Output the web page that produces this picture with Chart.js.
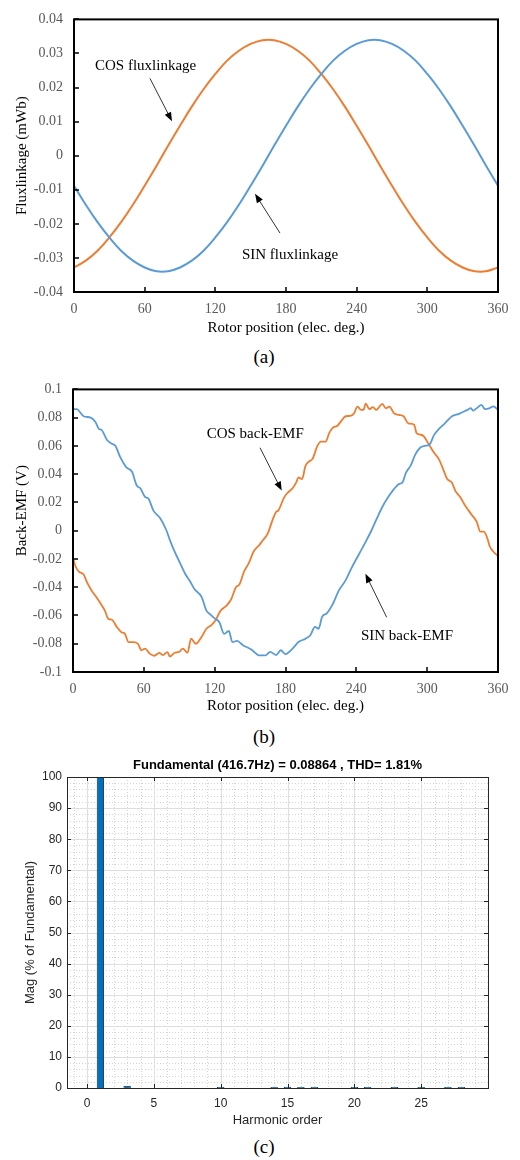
<!DOCTYPE html>
<html>
<head>
<meta charset="utf-8">
<script src="https://cdn.jsdelivr.net/npm/chart.js@4.4.1/dist/chart.umd.min.js"></script>
<style>
    body { margin: 0; background: #fff; width: 520px; height: 1160px; position: relative; overflow: hidden; }
    canvas { position: absolute; left: 0; }
    .cap { position: absolute; left: 0; width: 528px; text-align: center; font: 19px "Liberation Serif", serif; color: #000; line-height: 20px; }
</style>
</head>
<body>
<canvas id="chartA" width="520" height="345" style="top:0"></canvas>
<div class="cap" style="top:347px">(a)</div>
<canvas id="chartB" width="520" height="345" style="top:370px"></canvas>
<div class="cap" style="top:727px">(b)</div>
<canvas id="chartC" width="520" height="390" style="top:745px"></canvas>
<div class="cap" style="top:1137px">(c)</div>
<script>
// (a) flux linkage, mWb
const fluxAngle = [0, 10, 20, 30, 40, 50, 60, 70, 80, 90, 100, 110, 120, 130, 140, 150, 160, 170, 180,
    190, 200, 210, 220, 230, 240, 250, 260, 270, 280, 290, 300, 310, 320, 330, 340, 350, 360];
const cosFlux = [-0.0328, -0.0308, -0.0279, -0.0240, -0.0195, -0.0144, -0.0088, -0.0030, 0.0030, 0.0088,
    0.0144, 0.0195, 0.0240, 0.0279, 0.0308, 0.0328, 0.0339, 0.0339, 0.0328, 0.0308, 0.0279, 0.0240, 0.0195,
    0.0144, 0.0088, 0.0030, -0.0030, -0.0088, -0.0144, -0.0195, -0.0240, -0.0279, -0.0308, -0.0328, -0.0339,
    -0.0339, -0.0328];
const sinFlux = [-0.0088, -0.0144, -0.0195, -0.0240, -0.0279, -0.0308, -0.0328, -0.0339, -0.0339, -0.0328,
    -0.0308, -0.0279, -0.0240, -0.0195, -0.0144, -0.0088, -0.0030, 0.0030, 0.0088, 0.0144, 0.0195, 0.0240,
    0.0279, 0.0308, 0.0328, 0.0339, 0.0339, 0.0328, 0.0308, 0.0279, 0.0240, 0.0195, 0.0144, 0.0088, 0.0030,
    -0.0030, -0.0088];
const fluxTicks = [-0.04, -0.03, -0.02, -0.01, 0, 0.01, 0.02, 0.03, 0.04];

// (b) back-EMF, V
const sinEmfAngle = [0, 3, 9, 15, 19, 22, 24, 29, 33, 36, 40, 45, 50, 54, 57, 61, 64, 68, 74, 79, 82, 86, 90,
    95, 99, 103, 109, 113, 116, 120, 124, 128, 132, 135, 139, 144, 151, 158, 163, 167, 172, 176, 180, 186, 191,
    197, 201, 205, 208, 211, 215, 220, 225, 231, 236, 242, 248, 253, 258, 262, 267, 272, 276, 279, 282, 286,
    290, 294, 298, 302, 306, 310, 315, 321, 327, 334, 337, 339, 342, 346, 349, 353, 356, 360];
const sinEmf = [0.086, 0.086, 0.081, 0.080, 0.077, 0.072, 0.0715, 0.064, 0.0615, 0.060, 0.052, 0.045, 0.0417,
    0.032, 0.030, 0.024, 0.0226, 0.0144, 0.0086, 0.0005, -0.0065, -0.0147, -0.0217, -0.0305, -0.0356, -0.0415,
    -0.047, -0.0566, -0.059, -0.062, -0.0648, -0.073, -0.071, -0.0788, -0.078, -0.081, -0.084, -0.0883,
    -0.0883, -0.0857, -0.088, -0.0846, -0.0874, -0.0834, -0.0788, -0.0764, -0.074, -0.068, -0.0694, -0.061,
    -0.0585, -0.052, -0.0426, -0.035, -0.0263, -0.017, -0.0077, 0.0005, 0.0098, 0.0168, 0.0238, 0.0296, 0.033,
    0.034, 0.041, 0.046, 0.054, 0.0587, 0.060, 0.061, 0.068, 0.072, 0.076, 0.081, 0.0827, 0.0855, 0.0867,
    0.085, 0.0867, 0.089, 0.086, 0.0867, 0.088, 0.0855];
const cosEmfAngle = [0, 2, 5, 9, 12, 16, 20, 24, 27, 30, 33, 37, 41, 44, 47, 51, 55, 58, 61, 65, 69, 73, 76,
    80, 82, 86, 90, 93, 97, 100, 104, 109, 113, 117, 121, 125, 130, 134, 138, 141, 145, 149, 153, 158, 160,
    165, 169, 172, 174, 179, 182, 186, 189, 191, 194, 197, 200, 203, 207, 210, 214, 217, 220, 224, 227, 231,
    235, 238, 241, 244, 246, 248, 251, 254, 257, 260, 262, 265, 268, 272, 276, 280, 284, 289, 291, 294, 297,
    301, 306, 310, 313, 317, 321, 324, 328, 332, 338, 342, 345, 348, 351, 353, 356, 360];
const cosEmf = [-0.0193, -0.025, -0.029, -0.031, -0.0368, -0.0426, -0.0473, -0.0524, -0.0566, -0.0624, -0.063,
    -0.068, -0.0718, -0.073, -0.0788, -0.0788, -0.080, -0.0846, -0.0834, -0.087, -0.0885, -0.0864, -0.088,
    -0.086, -0.089, -0.0864, -0.0857, -0.0834, -0.0864, -0.0764, -0.080, -0.075, -0.0694, -0.067, -0.063,
    -0.0566, -0.053, -0.0485, -0.040, -0.038, -0.0287, -0.0228, -0.0147, -0.010, -0.0077, -0.0019, 0.0075,
    0.0133, 0.0144, 0.0238, 0.027, 0.030, 0.034, 0.0377, 0.0366, 0.046, 0.049, 0.051, 0.060, 0.063, 0.063,
    0.069, 0.0727, 0.0743, 0.0774, 0.081, 0.0813, 0.083, 0.0878, 0.0855, 0.0855, 0.090, 0.086, 0.0874, 0.0855,
    0.0883, 0.0897, 0.0867, 0.0878, 0.083, 0.082, 0.081, 0.076, 0.075, 0.069, 0.068, 0.067, 0.0617, 0.055,
    0.0505, 0.0447, 0.0366, 0.034, 0.028, 0.0238, 0.018, 0.011, 0.0063, -0.0007, -0.0007, -0.0054, -0.011,
    -0.0147, -0.018];
const emfTicks = [-0.1, -0.08, -0.06, -0.04, -0.02, 0, 0.02, 0.04, 0.06, 0.08, 0.1];
const angleTicks = [0, 60, 120, 180, 240, 300, 360];

// (c) harmonic spectrum, % of fundamental
const harmonicOrder = [0, 1, 2, 3, 4, 5, 6, 7, 8, 9, 10, 11, 12, 13, 14, 15, 16, 17, 18, 19, 20, 21, 22, 23,
    24, 25, 26, 27, 28];
const harmonicMag = [0, 100, 0, 0.7, 0, 0, 0, 0, 0, 0, 0.3, 0, 0, 0, 0.3, 0.4, 0.3, 0.3, 0, 0, 0.35, 0.3, 0,
    0.3, 0, 0.35, 0, 0.3, 0.3];
const magTicks = [0, 10, 20, 30, 40, 50, 60, 70, 80, 90, 100];
const orderTicks = [0, 5, 10, 15, 20, 25];

const ORANGE = '#ED7D31';
const BLUE = '#5B9BD5';
const serif = {family: '"Liberation Serif", "Times New Roman", serif', size: 15};
const serifTick = {family: serif.family, size: 14};
const sans = {family: '"Liberation Sans", Arial, sans-serif', size: 12};

const pts = (xs, ys) => xs.map((x, i) => ({x, y: ys[i]}));
const fixTicks = list => s => { s.ticks = list.map(v => ({value: v})); };

function arrow(ctx, x1, y1, x2, y2) {
    const a = Math.atan2(y2 - y1, x2 - x1), L = 9, W = 3.5;
    const c = Math.cos(a), s = Math.sin(a);
    ctx.beginPath();
    ctx.moveTo(x1, y1);
    ctx.lineTo(x2 - L * 0.8 * c, y2 - L * 0.8 * s);
    ctx.stroke();
    ctx.beginPath();
    ctx.moveTo(x2, y2);
    ctx.lineTo(x2 - L * c + W * s, y2 - L * s - W * c);
    ctx.lineTo(x2 - L * c - W * s, y2 - L * s + W * c);
    ctx.closePath();
    ctx.fill();
}

// frame, inward ticks, grid, notes and rotated y title
function decor(cfg) {
    return {
        id: 'decor',
        beforeDatasetsDraw(chart) {
            if (!cfg.grid) return;
            const {ctx, chartArea: a, scales: {x, y}} = chart;
            ctx.save();
            ctx.lineWidth = 1;
            ctx.strokeStyle = '#d4d4d4';
            ctx.setLineDash([1, 2]);
            ctx.beginPath();
            for (let v = -1; v < 30; v++) {
                if (v % 5 === 0) continue;
                const p = Math.round(x.getPixelForValue(v)) + 0.5;
                ctx.moveTo(p, a.top); ctx.lineTo(p, a.bottom);
            }
            for (let v = 2; v < 100; v += 2) {
                if (v % 10 === 0) continue;
                const p = Math.round(y.getPixelForValue(v)) + 0.5;
                ctx.moveTo(a.left, p); ctx.lineTo(a.right, p);
            }
            ctx.stroke();
            ctx.setLineDash([]);
            ctx.strokeStyle = '#dedede';
            ctx.beginPath();
            orderTicks.forEach(v => {
                const p = Math.round(x.getPixelForValue(v)) + 0.5;
                ctx.moveTo(p, a.top); ctx.lineTo(p, a.bottom);
            });
            magTicks.forEach(v => {
                const p = Math.round(y.getPixelForValue(v)) + 0.5;
                ctx.moveTo(a.left, p); ctx.lineTo(a.right, p);
            });
            ctx.stroke();
            ctx.restore();
        },
        afterDraw(chart) {
            const {ctx, chartArea: a, scales: {x, y}} = chart;
            const off = cfg.frameWidth % 2 ? 0.5 : 0;
            ctx.save();
            ctx.strokeStyle = cfg.axisColor;
            ctx.lineWidth = cfg.tickWidth;
            ctx.beginPath();
            x.ticks.forEach(t => {
                const p = Math.round(x.getPixelForValue(t.value)) + off;
                ctx.moveTo(p, a.bottom); ctx.lineTo(p, a.bottom - cfg.tickLen);
                if (cfg.allSides) { ctx.moveTo(p, a.top); ctx.lineTo(p, a.top + cfg.tickLen); }
            });
            y.ticks.forEach(t => {
                const p = Math.round(y.getPixelForValue(t.value)) + off;
                ctx.moveTo(a.left, p); ctx.lineTo(a.left + cfg.tickLen, p);
                if (cfg.allSides) { ctx.moveTo(a.right, p); ctx.lineTo(a.right - cfg.tickLen, p); }
            });
            ctx.stroke();
            ctx.lineWidth = cfg.frameWidth;
            ctx.strokeRect(a.left + off, a.top + off, a.right - a.left, a.bottom - a.top);

            // notes with arrows, given in data units
            ctx.fillStyle = '#000';
            ctx.font = `${serif.size}px ${serif.family}`;
            ctx.textBaseline = 'middle';
            ctx.textAlign = 'left';
            (cfg.notes || []).forEach(n => {
                ctx.fillText(n.text, x.getPixelForValue(n.at[0]), y.getPixelForValue(n.at[1]));
                ctx.strokeStyle = '#333';
                ctx.lineWidth = 1;
                arrow(ctx, x.getPixelForValue(n.from[0]), y.getPixelForValue(n.from[1]),
                    x.getPixelForValue(n.to[0]), y.getPixelForValue(n.to[1]));
            });

            // y axis title
            const yt = cfg.yTitle;
            ctx.font = yt.font;
            ctx.fillStyle = yt.color;
            ctx.textAlign = 'center';
            ctx.translate(yt.x, (a.top + a.bottom) / 2 + yt.dy);
            ctx.rotate(-Math.PI / 2);
            ctx.fillText(yt.text, 0, 0);
            ctx.restore();

            if (cfg.title) {
                ctx.save();
                ctx.font = cfg.title.font;
                ctx.fillStyle = '#000';
                ctx.textAlign = 'center';
                ctx.textBaseline = 'middle';
                ctx.fillText(cfg.title.text, (a.left + a.right) / 2, cfg.title.y);
                ctx.restore();
            }
        }
    };
}

function waveChart(id, s, yTicks, yMin, yMax, box) {
    return new Chart(document.getElementById(id), {
        type: 'line',
        data: {
            datasets: [
                {data: s.blue, borderColor: BLUE, borderWidth: s.lw, pointRadius: 0, ...s.curve},
                {data: s.orange, borderColor: ORANGE, borderWidth: s.lw, pointRadius: 0, ...s.curve}
            ]
        },
        options: {
            responsive: false,
            animation: false,
            layout: {padding: {left: 0, right: 22, top: box.top, bottom: 0}},
            plugins: {legend: {display: false}, tooltip: {enabled: false}},
            scales: {
                x: {
                    type: 'linear', min: 0, max: 360,
                    afterBuildTicks: fixTicks(angleTicks),
                    afterFit: sc => { sc.height = box.xh; },
                    grid: {display: false, drawTicks: false}, border: {display: false},
                    ticks: {padding: 9, color: '#595959', font: serifTick, maxRotation: 0, autoSkip: false},
                    title: {display: true, text: 'Rotor position (elec. deg.)', color: '#000', font: serif,
                        padding: {top: 0, bottom: box.tpad}}
                },
                y: {
                    min: yMin, max: yMax,
                    afterBuildTicks: fixTicks(yTicks),
                    afterFit: sc => { sc.width = box.yw; },
                    grid: {display: false, drawTicks: false}, border: {display: false},
                    ticks: {padding: 11, color: '#595959', font: serifTick,
                        callback: v => String(Math.round(v * 1000) / 1000)}
                }
            }
        },
        plugins: [decor({
            axisColor: '#000', tickWidth: 1.5, tickLen: 5, frameWidth: 2,
            notes: s.notes,
            yTitle: {text: s.yTitle, x: 22, dy: s.yTitleDy, color: '#000',
                font: `${serif.size}px ${serif.family}`}
        })]
    });
}

document.addEventListener('DOMContentLoaded', function () {

    waveChart('chartA', {
        blue: pts(fluxAngle, sinFlux),
        orange: pts(fluxAngle, cosFlux),
        lw: 2, curve: {tension: 0.4},
        yTitle: 'Fluxlinkage (mWb)', yTitleDy: 0,
        notes: [
            {text: 'COS fluxlinkage', at: [17.8, 0.0263], from: [64.5, 0.0227], to: [83.2, 0.0101]},
            {text: 'SIN fluxlinkage', at: [142.6, -0.0291], from: [174.9, -0.0227], to: [153.7, -0.0112]}
        ]
    }, fluxTicks, -0.04, 0.04, {top: 6, xh: 53, tpad: 8, yw: 74});

    waveChart('chartB', {
        blue: pts(sinEmfAngle, sinEmf),
        orange: pts(cosEmfAngle, cosEmf),
        lw: 1.8, curve: {cubicInterpolationMode: 'monotone'},
        yTitle: 'Back-EMF (V)', yTitleDy: -20,
        notes: [
            {text: 'COS back-EMF', at: [113.2, 0.0687], from: [158.4, 0.0587], to: [176.8, 0.0284]},
            {text: 'SIN back-EMF', at: [243.9, -0.0748], from: [265.7, -0.0613], to: [247.7, -0.0305]}
        ]
    }, emfTicks, -0.1, 0.1, {top: 16, xh: 43, tpad: 0, yw: 73});

    new Chart(document.getElementById('chartC'), {
        type: 'bar',
        data: {
            datasets: [{
                data: pts(harmonicOrder, harmonicMag),
                backgroundColor: '#0072BD',
                borderColor: '#1c2c3c',
                borderWidth: 1,
                barPercentage: 0.55,
                categoryPercentage: 1
            }]
        },
        options: {
            responsive: false,
            animation: false,
            layout: {padding: {left: 0, right: 32, top: 32, bottom: 0}},
            plugins: {legend: {display: false}, tooltip: {enabled: false}},
            scales: {
                x: {
                    type: 'linear', min: -1.5, max: 30, offset: false,
                    afterBuildTicks: fixTicks(orderTicks),
                    afterFit: sc => { sc.height = 47; },
                    grid: {display: false, drawTicks: false}, border: {display: false},
                    ticks: {padding: 8, color: '#262626', font: sans, maxRotation: 0, autoSkip: false},
                    title: {display: true, text: 'Harmonic order', color: '#262626',
                        font: {family: sans.family, size: 13}, padding: {top: 0, bottom: 7}}
                },
                y: {
                    min: 0, max: 100,
                    afterBuildTicks: fixTicks(magTicks),
                    afterFit: sc => { sc.width = 67; },
                    grid: {display: false, drawTicks: false}, border: {display: false},
                    ticks: {padding: 5, color: '#262626', font: sans}
                }
            }
        },
        plugins: [decor({
            grid: true, allSides: true,
            axisColor: '#262626', tickWidth: 1, tickLen: 4, frameWidth: 1,
            yTitle: {text: 'Mag (% of Fundamental)', x: 30, dy: 0, color: '#262626',
                font: `13px ${sans.family}`},
            title: {text: 'Fundamental (416.7Hz) = 0.08864 , THD= 1.81%', y: 20,
                font: `bold 13px ${sans.family}`}
        })]
    });

});
</script>
</body>
</html>
